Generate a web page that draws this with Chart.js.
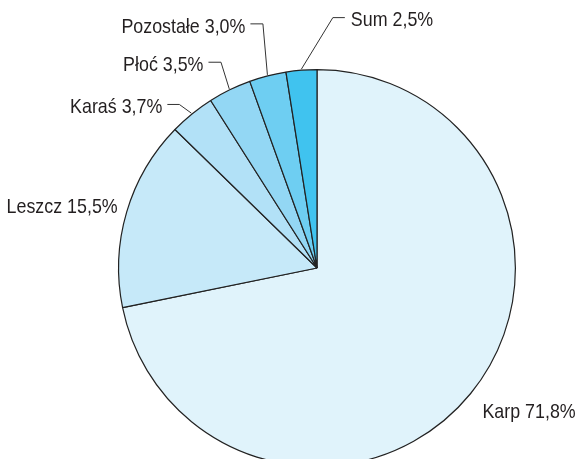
<!DOCTYPE html>
<html>
<head>
<meta charset="utf-8">
<script src="https://cdn.jsdelivr.net/npm/chart.js@4/dist/chart.umd.min.js"></script>
<style>
  html, body { margin: 0; padding: 0; background: #ffffff; overflow: hidden; }
  #wrap { width: 577px; height: 459px; overflow: hidden; position: relative; }
  canvas { display: block; }
</style>
</head>
<body>
<div id="wrap"><canvas id="c" width="577" height="540"></canvas></div>
<script>
// ---- data ----
const categories = ['Karp', 'Leszcz', 'Karaś', 'Płoć', 'Pozostałe', 'Sum'];
const values = [71.8, 15.5, 3.7, 3.5, 3.0, 2.5];

// ---- styles ----
const sliceColors = ['#e0f3fb', '#c6e9f9', '#b2e1f7', '#93d7f4', '#6ecef2', '#40c3ef'];
const FONT = "21px 'Liberation Sans', Arial, sans-serif";
const TEXT_SCALE_X = 0.85;
const TEXT_COLOR = '#231f20';
// per-label placement relative to the slice's mid point on the rim
const labelStyle = [
  { kind: 'plain', tx: 11, ty: 24, align: 'left' },
  { kind: 'plain', tx: -8, ty: 1, align: 'right' },
  { kind: 'leader', ex: -12, ey: -8.7, run: -12 },
  { kind: 'leader', ex: -8.3, ey: -26.7, run: -12.5 },
  { kind: 'leader', ex: -4.5, ey: -51, run: -12.5 },
  { kind: 'leader', ex: 31.5, ey: -51.6, run: 12 }
];

function fmt(v) { return v.toFixed(1).replace('.', ',') + '%'; }

function drawText(ctx, text, x, y, align) {
  ctx.save();
  ctx.translate(x, y);
  ctx.scale(TEXT_SCALE_X, 1);
  ctx.textAlign = align;
  ctx.fillText(text, 0, 0);
  ctx.restore();
}

const labelPlugin = {
  id: 'pieLabels',
  afterDatasetsDraw(chart) {
    const ctx = chart.ctx;
    const meta = chart.getDatasetMeta(0);
    ctx.save();
    ctx.font = FONT;
    ctx.fillStyle = TEXT_COLOR;
    ctx.strokeStyle = '#333333';
    ctx.lineWidth = 1;
    ctx.textBaseline = 'alphabetic';
    meta.data.forEach((arc, i) => {
      const p = arc.getProps(['x', 'y', 'startAngle', 'endAngle', 'outerRadius'], true);
      const mid = (p.startAngle + p.endAngle) / 2;
      const r = p.outerRadius + 1;
      const sx = p.x + Math.cos(mid) * r;
      const sy = p.y + Math.sin(mid) * r;
      const st = labelStyle[i];
      const text = categories[i] + ' ' + fmt(values[i]);
      if (st.kind === 'leader') {
        const exx = sx + st.ex, eyy = sy + st.ey;
        const hx = exx + st.run;
        ctx.beginPath();
        ctx.moveTo(sx, sy);
        ctx.lineTo(exx, eyy);
        ctx.lineTo(hx, eyy);
        ctx.stroke();
        if (st.run < 0) {
          drawText(ctx, text, hx - 5, eyy + 9, 'right');
        } else {
          drawText(ctx, text, hx + 6, eyy + 8, 'left');
        }
      } else {
        drawText(ctx, text, sx + st.tx, sy + st.ty, st.align);
      }
    });
    ctx.restore();
  }
};

new Chart(document.getElementById('c'), {
  type: 'pie',
  data: {
    labels: categories,
    datasets: [{
      data: values,
      backgroundColor: sliceColors,
      borderColor: '#222222',
      borderWidth: 1.2
    }]
  },
  options: {
    responsive: false,
    animation: false,
    events: [],
    layout: { padding: { top: 69, bottom: 73, left: 118, right: 61 } },
    plugins: {
      legend: { display: false },
      tooltip: { enabled: false }
    }
  },
  plugins: [labelPlugin]
});
</script>
</body>
</html>
